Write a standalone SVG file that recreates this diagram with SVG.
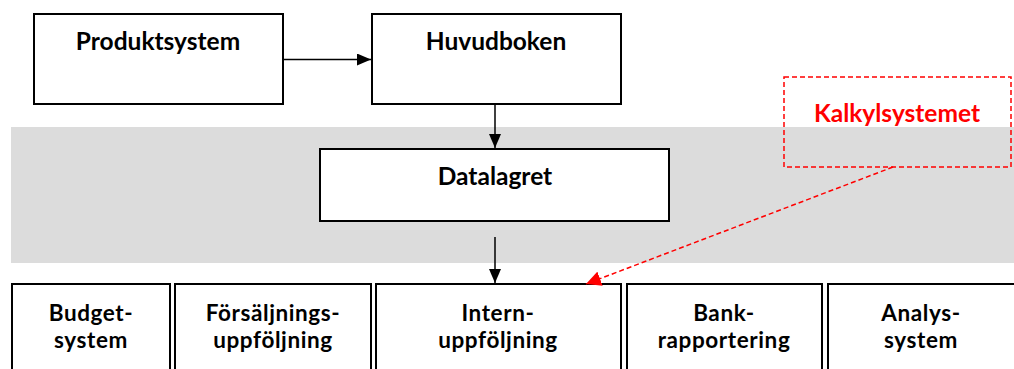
<svg xmlns="http://www.w3.org/2000/svg" width="1014" height="369" viewBox="0 0 1014 369">
  <style>
    .box { fill: #ffffff; stroke: #000000; stroke-width: 2; }
    .lbl { font-family: Lato, "Noto Sans", sans-serif; font-weight: bold; font-size: 24.5px; fill: #000000; text-anchor: middle; }
    .sm { font-size: 22.5px; letter-spacing: 0.6px; }
    .red { fill: #ff0000; }
    .edge { stroke: #000000; stroke-width: 1.5; fill: none; }
    .dash { stroke: #ff0000; stroke-width: 1.5; fill: none; stroke-dasharray: 5 3; }
  </style>
  <defs>
    <marker id="arrow" viewBox="0 0 14 12" refX="14" refY="6" markerWidth="14" markerHeight="12" markerUnits="userSpaceOnUse" orient="auto">
      <path d="M0,0 L14,6 L0,12 z" fill="#000000"/>
    </marker>
    <marker id="arrowRed" viewBox="0 0 14 14" refX="14" refY="7" markerWidth="15" markerHeight="15" markerUnits="userSpaceOnUse" orient="auto">
      <path d="M0,0 L14,7 L0,14 z" fill="#ff0000"/>
    </marker>
  </defs>

  <!-- data warehouse band -->
  <rect x="11" y="127" width="1003" height="136" fill="#dcdcdc"/>

  <g id="produktsystem">
    <rect class="box" x="34" y="14" width="249" height="90"/>
    <text class="lbl" x="158" y="50">Produktsystem</text>
  </g>
  <g id="huvudboken">
    <rect class="box" x="372" y="14" width="249" height="90"/>
    <text class="lbl" x="496" y="50">Huvudboken</text>
  </g>
  <g id="datalagret">
    <rect class="box" x="320" y="149" width="349" height="72"/>
    <text class="lbl" x="495" y="185">Datalagret</text>
  </g>
  <g id="kalkylsystemet">
    <rect x="784" y="77" width="227" height="90" fill="none" stroke="#ff0000" stroke-width="1.5" stroke-dasharray="5 3"/>
    <text class="lbl red" x="897" y="122">Kalkylsystemet</text>
  </g>

  <g id="budgetsystem">
    <rect class="box" x="12" y="284" width="158" height="100"/>
    <text class="lbl sm" x="91" y="321">Budget-</text>
    <text class="lbl sm" x="91" y="348">system</text>
  </g>
  <g id="forsaljningsuppfoljning">
    <rect class="box" x="175" y="284" width="196" height="100"/>
    <text class="lbl sm" x="273" y="321">Försäljnings-</text>
    <text class="lbl sm" x="273" y="348">uppföljning</text>
  </g>
  <g id="internuppfoljning">
    <rect class="box" x="376" y="284" width="245" height="100"/>
    <text class="lbl sm" x="498" y="321">Intern-</text>
    <text class="lbl sm" x="498" y="348">uppföljning</text>
  </g>
  <g id="bankrapportering">
    <rect class="box" x="627" y="284" width="195" height="100"/>
    <text class="lbl sm" x="724" y="321">Bank-</text>
    <text class="lbl sm" x="724" y="348">rapportering</text>
  </g>
  <g id="analyssystem">
    <rect class="box" x="828" y="284" width="200" height="100"/>
    <text class="lbl sm" x="921" y="321">Analys-</text>
    <text class="lbl sm" x="921" y="348">system</text>
  </g>

  <g id="connectors">
    <line class="edge" x1="283" y1="59.5" x2="371" y2="59.5" marker-end="url(#arrow)"/>
    <line class="edge" x1="495" y1="104" x2="495" y2="148" marker-end="url(#arrow)"/>
    <line class="edge" x1="495" y1="237" x2="495" y2="283" marker-end="url(#arrow)"/>
    <line class="dash" x1="893" y1="167" x2="586" y2="284" marker-end="url(#arrowRed)"/>
  </g>
</svg>
